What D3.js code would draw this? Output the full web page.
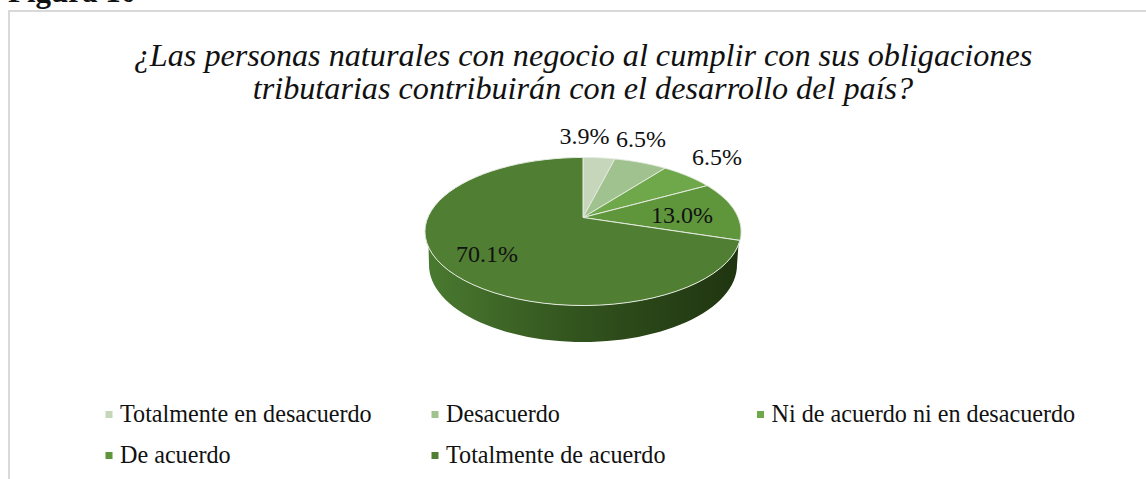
<!DOCTYPE html>
<html><head>
<meta charset="utf-8">
<script src="https://d3js.org/d3.v7.min.js"></script>
<style>
  body { margin: 0; background: #fff; }
  svg { display: block; font-family: "Liberation Serif", serif; }
</style>
</head>
<body>
<svg id="chart" width="1146" height="479"></svg>
<script>
const categories = ["Totalmente en desacuerdo", "Desacuerdo", "Ni de acuerdo ni en desacuerdo", "De acuerdo", "Totalmente de acuerdo"];
const values = [3.9, 6.5, 6.5, 13.0, 70.1];
const colors = ["#c5d6bb", "#a0c28f", "#6fa84a", "#5f963c", "#507e32"];
const titleLines = ["¿Las personas naturales con negocio al cumplir con sus obligaciones",
                    "tributarias contribuirán con el desarrollo del país?"];

const svg = d3.select("#chart");

// caption cut off at the top of the page, and the chart frame (open at right and bottom)
svg.append("text").attr("x", 8).attr("y", 2)
   .attr("font-size", 31).attr("font-weight", "bold").attr("fill", "#111").text("Figura 10");
svg.append("path").attr("d", "M9,479V11H1146")
   .attr("fill", "none").attr("stroke", "#d9d9d9").attr("stroke-width", 2);

svg.selectAll(".title").data(titleLines).join("text")
   .attr("class", "title")
   .attr("x", 583).attr("y", (d, i) => 66 + i * 33)
   .attr("text-anchor", "middle").attr("font-size", 32.2).attr("font-style", "italic")
   .attr("fill", "#111").text(d => d);

// tilted pie: the apex sits above the middle of the ellipse, so use a perspective projection
const cx = 583, cy = 217.5;
const k = 0.189, sx = 155.2, sy = 71.4;
function project(a) {
  const x = Math.sin(a), v = -Math.cos(a);
  const w = 1 - k * v;
  return [cx + sx * x / w, cy + sy * v / w];
}
function arcPoints(a0, a1) {
  return d3.range(0, 61).map(i => project(a0 + (a1 - a0) * i / 60));
}

const defs = svg.append("defs");
const grad = defs.append("linearGradient").attr("id", "wall");
grad.append("stop").attr("offset", "0%").attr("stop-color", "#4a7a30");
grad.append("stop").attr("offset", "50%").attr("stop-color", "#31521d");
grad.append("stop").attr("offset", "100%").attr("stop-color", "#1f3410");

// side wall, between the front of the rim and a narrower lower ellipse
const line = d3.line();
const rimFront = arcPoints(Math.PI * 0.5 + 0.08, Math.PI * 1.5);
const lowerFront = d3.range(0, 61).map(i => {
  const a = Math.PI * 1.5 - Math.PI * i / 60;
  return [cx + 154 * Math.sin(a), 265 - 77 * Math.cos(a)];
});
svg.append("path").attr("d", line(rimFront.concat(lowerFront)) + "Z").attr("fill", "url(#wall)");

const pie = d3.pie().value(d => d).sort(null);
const slices = pie(values);
svg.selectAll(".slice").data(slices).join("path")
   .attr("class", "slice")
   .attr("d", d => line([[cx, cy]].concat(arcPoints(d.startAngle, d.endAngle))) + "Z")
   .attr("fill", (d, i) => colors[i])
   .attr("stroke", "#e4ebdf").attr("stroke-width", 1).attr("stroke-linejoin", "round");

// label offsets from the slice edge
const labelDx = [-14.5, 0.5, 29.6, -52.5, 45];
const labelDy = [-14, -15.5, -11, 12.6, -3];
svg.selectAll(".label").data(slices).join("text")
   .attr("class", "label")
   .attr("x", (d, i) => project((d.startAngle + d.endAngle) / 2)[0] + labelDx[i])
   .attr("y", (d, i) => project((d.startAngle + d.endAngle) / 2)[1] + labelDy[i])
   .attr("text-anchor", "middle").attr("font-size", 24).attr("fill", "#111")
   .text(d => d.value.toFixed(1) + "%");

// legend
const legendX = [105.5, 431.5, 757, 105.5, 431.5];
const legendY = [415, 415, 415, 456, 456];
const legend = svg.selectAll(".legend").data(categories).join("g")
   .attr("class", "legend")
   .attr("transform", (d, i) => `translate(${legendX[i]},${legendY[i]})`);
legend.append("rect").attr("x", 0).attr("y", -4).attr("width", 7).attr("height", 7)
   .attr("fill", (d, i) => colors[i]);
legend.append("text").attr("x", 14.5).attr("y", 7)
   .attr("font-size", 24.15).attr("fill", "#111").text(d => d);
</script>
</body></html>
